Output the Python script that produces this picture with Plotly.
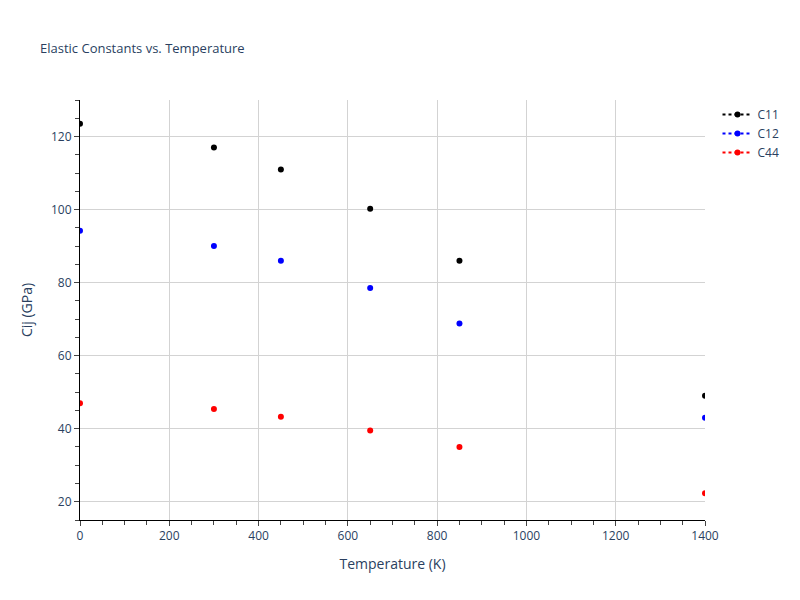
import plotly.graph_objects as go

temps = [0, 300, 450, 650, 850, 1400]
c11 = [123.5, 117, 111, 100.2, 86, 49]
c12 = [94.2, 90, 86, 78.5, 68.8, 43]
c44 = [47, 45.4, 43.3, 39.5, 35, 22.3]

def gapped(v):
    out = []
    for a in v:
        out += [a, None]
    return out

fig = go.Figure()
for name, vals, col in [("C11", c11, "black"), ("C12", c12, "blue"), ("C44", c44, "red")]:
    fig.add_trace(go.Scatter(x=gapped(temps), y=gapped(vals), name=name, mode="lines+markers",
                             connectgaps=False, line=dict(color=col, dash="dot", width=2),
                             marker=dict(color=col, size=6)))

ax = dict(showline=True, linecolor="black", gridcolor="lightgray", ticks="outside",
          minor=dict(ticks="outside", ticklen=4), zeroline=False)
fig.update_layout(
    width=800, height=600, plot_bgcolor="white", paper_bgcolor="white",
    title=dict(text="Elastic Constants vs. Temperature", x=0.04, y=0.94, font=dict(size=13)),
    margin=dict(l=72, r=103, t=92, b=88),
    xaxis=dict(title="Temperature (K)", range=[0, 1400], **ax),
    yaxis=dict(title="Cij (GPa)", range=[15, 130], **ax),
    legend=dict(x=1.02, y=1, yanchor="top"),
)
fig.write_html("out.html")
